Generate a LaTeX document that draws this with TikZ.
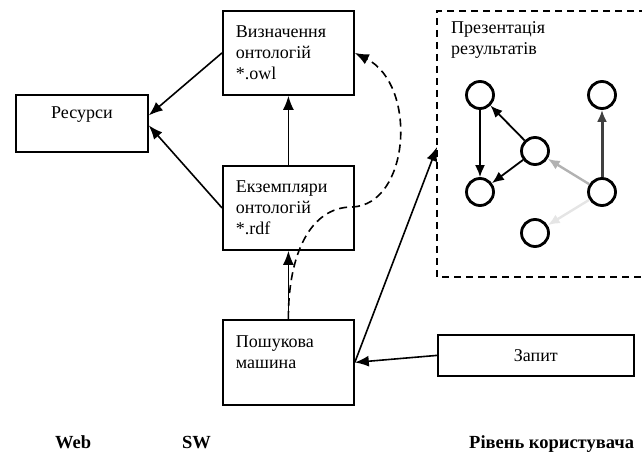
\documentclass[tikz,border=0pt]{standalone}
\usepackage{fontspec}
\setmainfont{Liberation Serif}
\usetikzlibrary{arrows.meta,calc}
\begin{document}
\begin{tikzpicture}[x=1pt,y=-1pt,
  every node/.style={font=\fontsize{18}{21}\selectfont},
  box/.style={draw, line width=1.8pt, inner ysep=0pt, inner xsep=13pt, text width=105pt, align=left, minimum height=84pt, anchor=north west},
  arr/.style={line width=1.6pt, -{Latex[length=14pt,width=11pt]}},
  gnode/.style={circle, draw, line width=2.8pt, minimum size=27pt, inner sep=0pt},
  garr/.style={line width=1.8pt, -{Latex[length=12pt,width=10pt]}},
  lbl/.style={font=\fontsize{18.5}{21}\bfseries\selectfont, anchor=base west, inner sep=0pt}
]
\useasboundingbox (0,0) rectangle (642,454);

% boxes
\node[box, minimum width=132pt, text width=106pt, align=center, inner xsep=13pt, minimum height=57pt] (res) at (15,94) {Ресурси\\\mbox{}};
\node[box] (viz) at (222,10) {Визначення\\онтологій\\{*}.owl};
\node[box] (ekz) at (222,165) {Екземпляри\\онтологій\\{*}.rdf};
\node[box, minimum height=85pt] (posh) at (222,319) {Пошукова\\машина\\\mbox{}};
\node[draw, line width=1.8pt, anchor=north west, minimum width=196pt, minimum height=41pt, inner sep=0pt] (zap) at (437,334) {Запит};

% dashed region
\coordinate (dtr) at (646,11);
\coordinate (dtl) at (437,11);
\coordinate (dbl) at (437,277);
\coordinate (dbr) at (646,277);
\coordinate (pres) at (437,147);
\draw[line width=1.6pt, dash pattern=on 7pt off 5pt] (dtr) -- (dtl) -- (dbl) -- (dbr);
\node[anchor=north west, align=left, inner sep=0pt] (prestxt) at (451,21) {Презентація\\результатів};

% graph
\node[gnode] (c1) at (480,95) {};
\node[gnode] (c2) at (602,95) {};
\node[gnode] (c3) at (535,151) {};
\node[gnode] (c4) at (480,192) {};
\node[gnode] (c5) at (602,192) {};
\node[gnode] (c6) at (535,233) {};
\draw[garr] (c1) -- (c4);
\draw[garr] (c3) -- (c1);
\draw[garr] (c3) -- (c4);
\draw[garr, line width=2.4pt, color=black!30] (c5) -- (c3);
\draw[garr, line width=3pt, color=black!75] (c5) -- (c2);
\draw[garr, line width=2.4pt, color=black!10] (c5) -- (c6);

% connectors
\draw[arr] (viz.west) -- ([yshift=8pt]res.east);
\draw[arr] (ekz.west) -- ([yshift=-2pt]res.east);
\draw[arr] (ekz.north) -- (viz.south);
\draw[arr] (posh.north) -- (ekz.south);
\draw[line width=1.6pt, dash pattern=on 8pt off 5pt, -{Latex[length=14pt,width=11pt]}]
  (posh.north) .. controls (288,255) and (310,207) .. (352,207)
  .. controls (410,205) and (418,85) .. (viz.east);
\draw[arr] (posh.east) -- (pres);
\draw[arr] (zap.west) -- (posh.east);

% labels
\node[lbl] (web) at (55,448) {Web};
\node[lbl] (sw) at (182,448) {SW};
\node[lbl] (user) at (469,448) {Рівень користувача};
\end{tikzpicture}
\end{document}
